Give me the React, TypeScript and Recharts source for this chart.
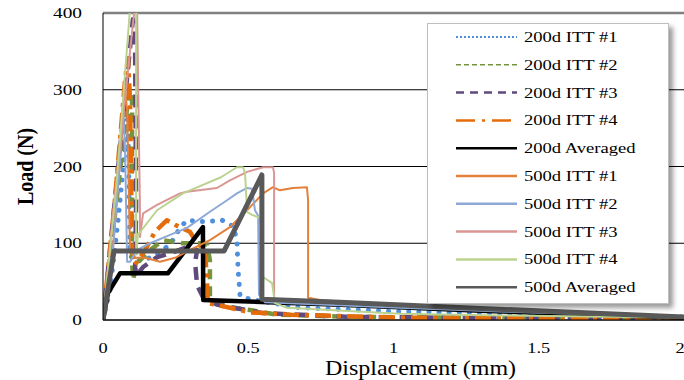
import React from 'react';
import { LineChart, Line, XAxis, YAxis, CartesianGrid, ReferenceLine, Label } from 'recharts';

// [displacement (mm), load (N)]
const itt200_1: [number, number][] = [[0,0],[0.024,39],[0.052,130],[0.072,208],[0.086,270],[0.090,156],[0.093,85],[0.110,76],[0.162,81],[0.231,98],[0.265,120],[0.289,130],[0.351,128],[0.410,130],[0.448,122],[0.461,104],[0.465,65],[0.472,31],[0.506,27],[0.678,16],[1.022,11],[1.5,8],[2.0,4]];
const itt200_2: [number, number][] = [[0,0],[0.090,300],[0.100,290],[0.100,80],[0.103,52],[0.117,74],[0.162,91],[0.207,104],[0.275,100],[0.334,100],[0.358,98],[0.368,78],[0.368,30],[0.403,22],[0.448,16],[0.506,13],[0.599,7],[0.850,4],[1.4,3],[2.0,1]];
const itt200_3: [number, number][] = [[0,0],[0.103,392],[0.110,380],[0.114,150],[0.110,55],[0.117,59],[0.138,69],[0.186,82],[0.231,87],[0.289,95],[0.324,91],[0.317,75],[0.324,45],[0.344,30],[0.392,20],[0.551,9],[0.850,4],[2.0,1]];
const itt200_4: [number, number][] = [[0,0],[0.041,156],[0.076,313],[0.086,341],[0.093,287],[0.100,91],[0.110,72],[0.145,91],[0.179,115],[0.220,130],[0.248,124],[0.299,115],[0.324,100],[0.351,91],[0.358,52],[0.361,22],[0.437,16],[0.506,10],[0.644,7],[1.022,3],[2.0,1]];
const avg200: [number, number][] = [[0,0],[0.017,35],[0.059,61],[0.224,61],[0.344,121],[0.345,26],[0.816,20],[1.3,12],[2.0,3]];
const itt500_1: [number, number][] = [[0,0],[0.031,78],[0.059,208],[0.076,300],[0.083,274],[0.093,91],[0.110,81],[0.145,81],[0.196,76],[0.248,81],[0.299,91],[0.368,104],[0.437,121],[0.506,147],[0.551,165],[0.585,173],[0.609,169],[0.654,172],[0.702,173],[0.706,156],[0.706,29],[0.747,26],[1.022,18],[1.367,12],[2.0,4]];
const itt500_2: [number, number][] = [[0,0],[0.034,91],[0.059,208],[0.069,280],[0.076,221],[0.083,76],[0.093,76],[0.117,91],[0.162,100],[0.231,111],[0.289,120],[0.368,141],[0.427,156],[0.461,165],[0.496,172],[0.513,171],[0.523,143],[0.534,136],[0.537,33],[0.558,23],[1.022,16],[1.367,11],[2.0,4]];
const itt500_3: [number, number][] = [[0,0],[0.034,137],[0.107,400],[0.117,415],[0.127,150],[0.127,108],[0.138,139],[0.186,150],[0.265,165],[0.289,167],[0.392,172],[0.437,182],[0.496,193],[0.551,199],[0.585,199],[0.589,192],[0.589,26],[0.644,25],[1.022,20],[1.4,13],[2.0,5]];
const itt500_4: [number, number][] = [[0,0],[0.045,170],[0.096,420],[0.114,420],[0.114,85],[0.120,111],[0.186,143],[0.275,165],[0.406,186],[0.461,199],[0.482,199],[0.489,191],[0.496,141],[0.513,137],[0.540,133],[0.547,117],[0.551,56],[0.582,48],[0.592,22],[0.633,16],[1.022,8],[1.367,6],[2.0,3]];
const avg500: [number, number][] = [[0,0],[0.038,90],[0.417,90],[0.547,189],[0.547,27],[0.816,23],[1.3,15],[2.0,4]];

const xTicks = [0, 0.5, 1, 1.5, 2];
const yTicks = [0, 100, 200, 300, 400];

const FONT = '"Liberation Serif", "Times New Roman", serif';

const series = [
  { name: '200d ITT #1', data: itt200_1, color: '#4F8FDB', w: 5, dash: '0.1 10', cap: 'round', lw: 2, ldash: '2 2' },
  { name: '200d ITT #2', data: itt200_2, color: '#77933C', w: 4.5, dash: '10 7', cap: 'butt', lw: 1.5, ldash: '5 3' },
  { name: '200d ITT #3', data: itt200_3, color: '#604A7B', w: 4.5, dash: '13 8', cap: 'butt', lw: 2.5, ldash: '8 6' },
  { name: '200d ITT #4', data: itt200_4, color: '#E46C0A', w: 4.5, dash: '16 6 4 6', cap: 'butt', lw: 2.5, ldash: '19 7 3 7' },
  { name: '200d Averaged', data: avg200, color: '#000000', w: 4.5, dash: undefined, cap: 'butt', lw: 2.5, ldash: undefined },
  { name: '500d ITT #1', data: itt500_1, color: '#E3803A', w: 2, dash: undefined, cap: 'butt', lw: 2.5, ldash: undefined },
  { name: '500d ITT #2', data: itt500_2, color: '#8EA9D6', w: 2, dash: undefined, cap: 'butt', lw: 2.5, ldash: undefined },
  { name: '500d ITT #3', data: itt500_3, color: '#D99694', w: 2, dash: undefined, cap: 'butt', lw: 2.5, ldash: undefined },
  { name: '500d ITT #4', data: itt500_4, color: '#BBD38F', w: 2, dash: undefined, cap: 'butt', lw: 2.5, ldash: undefined },
  { name: '500d Averaged', data: avg500, color: '#595959', w: 5, dash: undefined, cap: 'butt', lw: 2.5, ldash: undefined },
];

const YTick = (props: any) => {
  const { x, y, payload } = props;
  return (
    <text transform={`translate(${x},${y + 5}) scale(1.38,1)`} textAnchor="end" fontFamily={FONT} fontSize={14} fill="#000">
      {payload.value}
    </text>
  );
};

const XTick = (props: any) => {
  const { x, y, payload } = props;
  return (
    <text transform={`translate(${x},${y}) scale(1.22,1)`} textAnchor="middle" fontFamily={FONT} fontSize={15} fill="#000">
      {payload.value}
    </text>
  );
};

const XTitle = (props: any) => {
  const vb = props.viewBox || { x: 103, y: 320, width: 581, height: 60 };
  return (
    <text transform={`translate(${vb.x + vb.width / 2 + 27},${vb.y + 55}) scale(1.2,1)`} textAnchor="middle" fontFamily={FONT} fontSize={20} fill="#000">
      Displacement (mm)
    </text>
  );
};

const YTitle = (props: any) => {
  const vb = props.viewBox || { x: 0, y: 13, width: 103, height: 307 };
  return (
    <text transform={`translate(25,${vb.y + vb.height / 2}) rotate(-90) scale(1,1.2)`} textAnchor="middle" dominantBaseline="central" fontFamily={FONT} fontSize={20} fontWeight="bold" fill="#000">
      Load (N)
    </text>
  );
};

const ChartLegend = () => (
  <div style={{ position: 'absolute', left: 427, top: 23, width: 240, height: 279, background: '#fff', border: '1px solid #bfbfbf', boxShadow: '4px 4px 5px rgba(0,0,0,0.4)' }}>
    <svg width={240} height={279} style={{ display: 'block' }}>
      {series.map((s, i) => {
        const cy = 13 + i * 27.8;
        return (
          <g key={s.name}>
            <line x1={28} x2={89} y1={cy} y2={cy} stroke={s.color} strokeWidth={s.lw} strokeDasharray={s.ldash} />
            <text transform={`translate(96,${cy + 5}) scale(1.24,1)`} fontFamily={FONT} fontSize={15} fill="#000">{s.name}</text>
          </g>
        );
      })}
    </svg>
  </div>
);

export default function App() {
  return (
    <div style={{ position: 'absolute', left: 0, top: 0, width: 684, height: 380, background: '#fff', overflow: 'hidden' }}>
      <LineChart width={684} height={380} margin={{ top: 13, right: 0, bottom: 0, left: 0 }}>
        <CartesianGrid horizontal vertical={false} stroke="#000" strokeWidth={1} />
        <XAxis
          type="number"
          dataKey="x"
          domain={[0, 2]}
          ticks={xTicks}
          height={60}
          tickLine={false}
          tickSize={0}
          tickMargin={33}
          axisLine={{ stroke: '#000', strokeWidth: 1 }}
          tick={<XTick />}
          allowDataOverflow
        >
          <Label content={<XTitle />} />
        </XAxis>
        <YAxis
          type="number"
          dataKey="y"
          domain={[0, 400]}
          ticks={yTicks}
          width={103}
          tickLine={false}
          tickSize={0}
          tickMargin={21}
          axisLine={{ stroke: '#000', strokeWidth: 1 }}
          tick={<YTick />}
          allowDataOverflow
        >
          <Label content={<YTitle />} />
        </YAxis>
        <ReferenceLine y={400} stroke="#808080" strokeWidth={2.5} />
        {series.map((s) => (
          <Line
            key={s.name}
            name={s.name}
            data={s.data.map(([x, y]) => ({ x, y }))}
            dataKey="y"
            type="linear"
            stroke={s.color}
            strokeWidth={s.w}
            strokeDasharray={s.dash}
            strokeLinecap={s.cap as any}
            strokeLinejoin="round"
            dot={false}
            activeDot={false}
            isAnimationActive={false}
          />
        ))}
      </LineChart>
      <ChartLegend />
    </div>
  );
}
